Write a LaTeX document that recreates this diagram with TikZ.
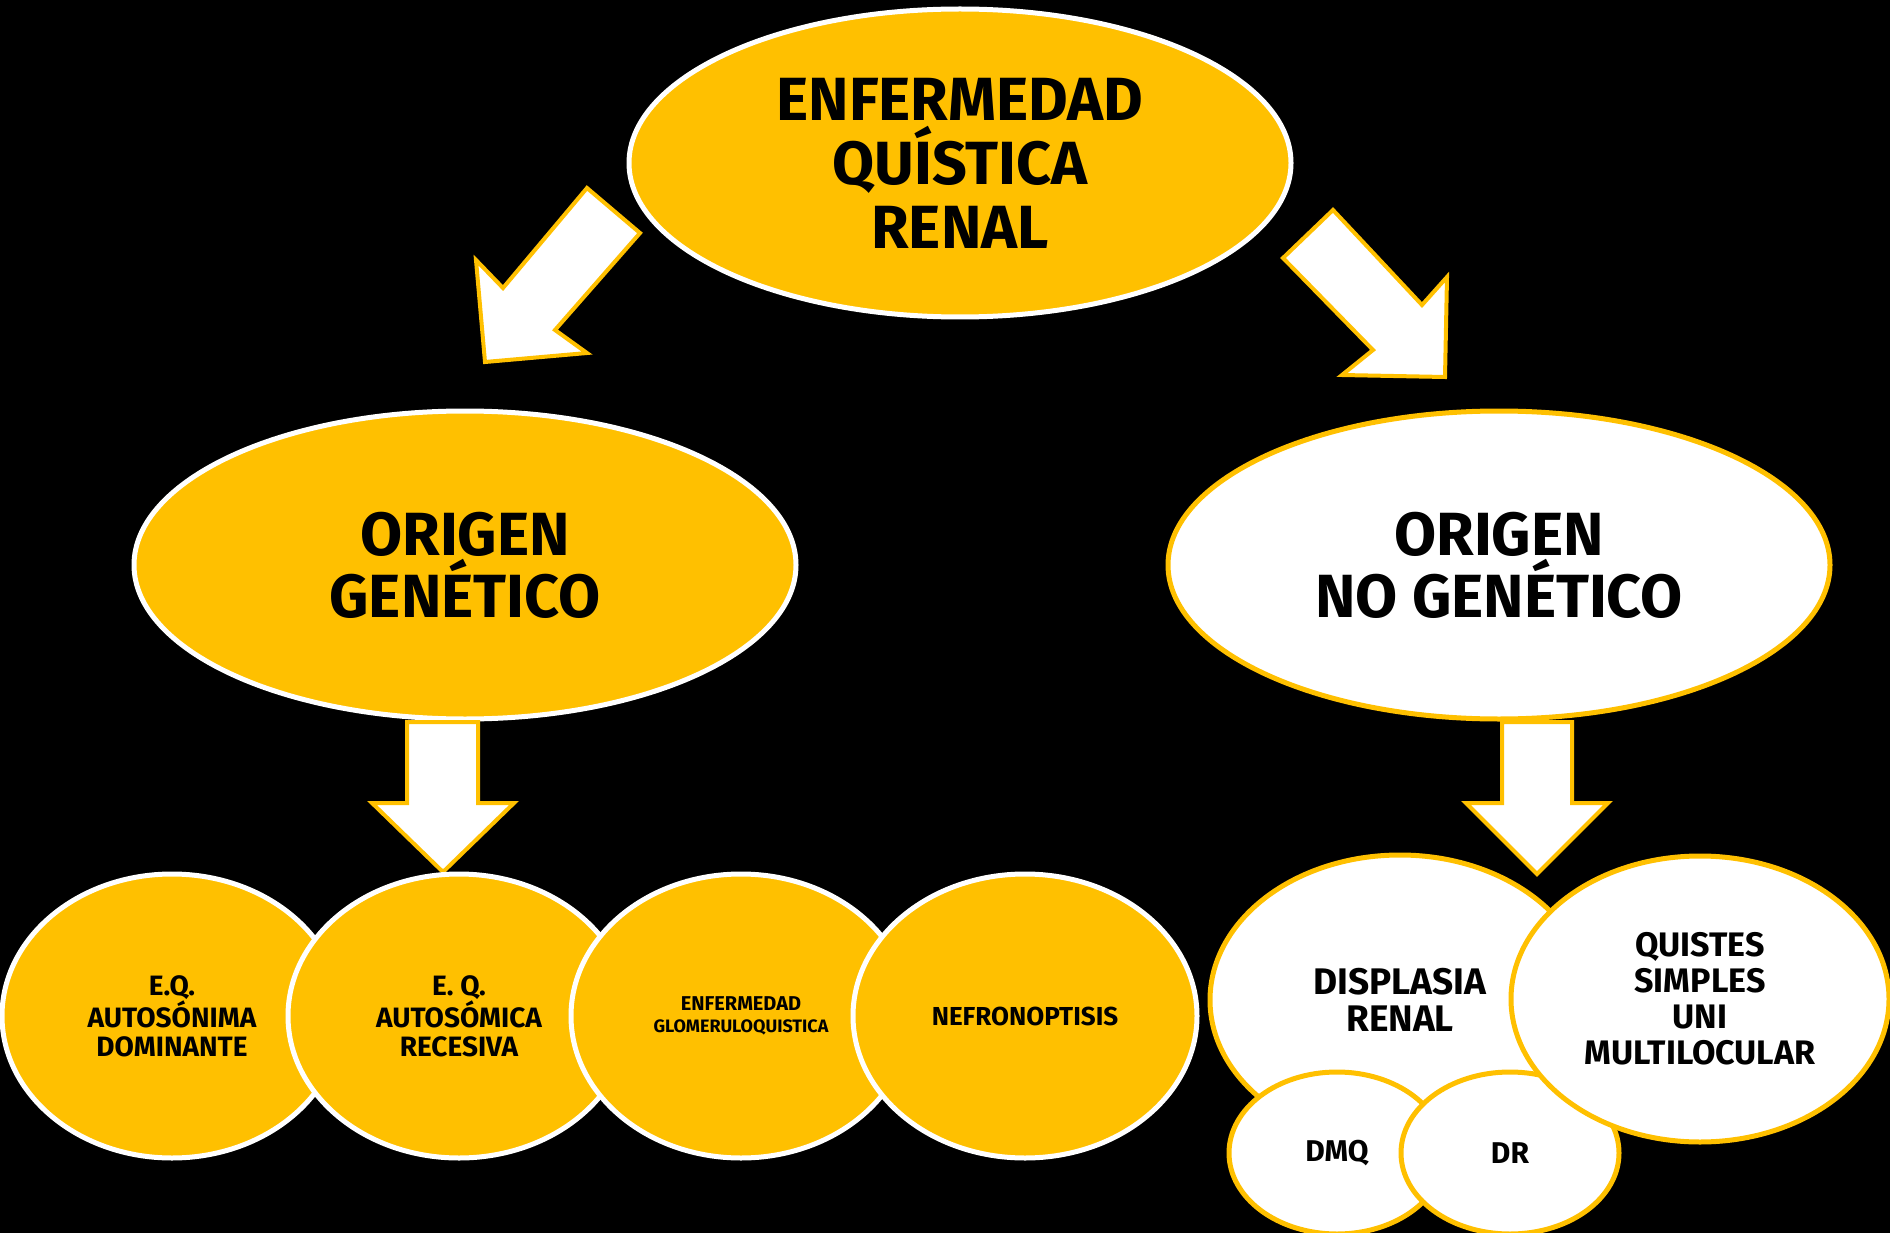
\documentclass[tikz,border=0pt]{standalone}
\usepackage{fontspec}
\setmainfont{Fira Sans}
\usetikzlibrary{shapes.geometric}
\definecolor{amber}{HTML}{FFC000}
\tikzset{
  ovalY/.style={ellipse, draw=white, fill=amber, line width=5pt, inner sep=0pt, align=center, font=\bfseries},
  ovalW/.style={ellipse, draw=amber, fill=white, line width=5pt, inner sep=0pt, align=center, font=\bfseries},
  blockarrow/.style={draw=amber, fill=white, line width=4pt, line join=miter},
}
\begin{document}
\begin{tikzpicture}[x=1pt,y=-1pt]
\fill[black] (0,0) rectangle (1890,1233);
\useasboundingbox (0,0) rectangle (1890,1233);

% main ellipses
\node[ovalY, minimum width=662pt, minimum height=308pt,
      font=\bfseries\fontsize{61}{64}\selectfont] (root) at (960,163)
      {ENFERMEDAD\\QUÍSTICA\\RENAL};
\node[ovalY, minimum width=662pt, minimum height=308pt,
      font=\bfseries\fontsize{61}{62}\selectfont] (gen) at (465,565)
      {ORIGEN\\GENÉTICO};
\node[ovalW, minimum width=662pt, minimum height=308pt,
      font=\bfseries\fontsize{61}{62}\selectfont] (nogen) at (1499,565)
      {ORIGEN\\NO GENÉTICO};

% block arrows
\draw[blockarrow] (587,188) -- (640,233) -- (555,330) -- (587,353) -- (485,362) -- (476,260) -- (503,288) -- cycle;
\draw[blockarrow] (1333,210) -- (1422,305) -- (1447,277) -- (1445,377) -- (1342,375) -- (1373,350) -- (1283,258) -- cycle;
\draw[blockarrow] (407,722) -- (478,722) -- (478,803) -- (514,803) -- (443,872) -- (372,803) -- (407,803) -- cycle;
\draw[blockarrow] (1502,722) -- (1572,722) -- (1572,803) -- (1608,803) -- (1537,874) -- (1466,803) -- (1502,803) -- cycle;

% genetic subtypes
\node[ovalY, minimum width=340pt, minimum height=284pt,
      font=\bfseries\fontsize{28}{29}\selectfont] (adpkd) at (172,1016)
      {E.Q.\\AUTOSÓNIMA\\DOMINANTE};
\node[ovalY, minimum width=342pt, minimum height=284pt,
      font=\bfseries\fontsize{28}{29}\selectfont] (arpkd) at (459,1016)
      {E. Q.\\AUTOSÓMICA\\RECESIVA};
\node[ovalY, minimum width=340pt, minimum height=284pt,
      font=\bfseries\fontsize{20}{22}\selectfont] (glom) at (741,1016)
      {ENFERMEDAD\\{\fontsize{18}{22}\selectfont GLOMERULOQUISTICA}};
\node[ovalY, minimum width=344pt, minimum height=284pt,
      font=\bfseries\fontsize{26}{28}\selectfont] (nefro) at (1025,1016)
      {NEFRONOPTISIS};

% non-genetic subtypes
\node[ovalW, minimum width=380pt, minimum height=290pt,
      font=\bfseries\fontsize{37}{37}\selectfont] (displ) at (1400,1000)
      {DISPLASIA\\RENAL};
\node[ovalW, minimum width=216pt, minimum height=162pt,
      font=\bfseries\fontsize{30}{32}\selectfont] (dmq) at (1337,1153)
      {DMQ};
\node[ovalW, minimum width=218pt, minimum height=162pt,
      font=\bfseries\fontsize{30}{32}\selectfont] (dr) at (1510,1153)
      {DR};
\node[ovalW, minimum width=378pt, minimum height=286pt,
      font=\bfseries\fontsize{34}{36}\selectfont] (quist) at (1700,999)
      {QUISTES\\SIMPLES\\UNI\\MULTILOCULAR};
\end{tikzpicture}
\end{document}
